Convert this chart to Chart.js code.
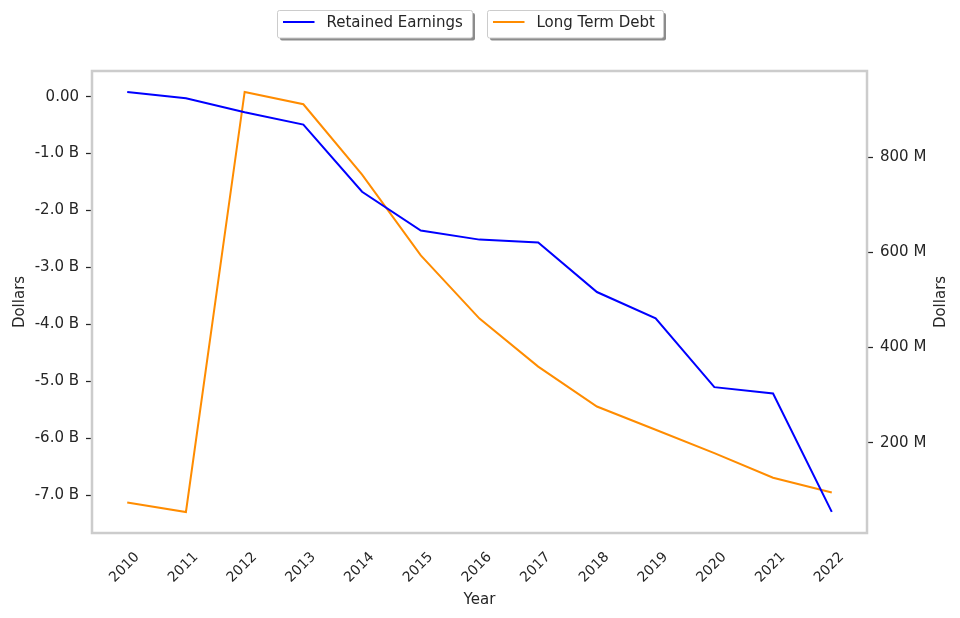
<!DOCTYPE html>
<html>
<head>
<meta charset="utf-8">
<script src="https://cdn.jsdelivr.net/npm/chart.js@4/dist/chart.umd.min.js"></script>
<style>
html,body{margin:0;padding:0;background:#fff;}
canvas{display:block;}
</style>
</head>
<body>
<canvas id="c" width="960" height="618"></canvas>
<script>
// ---- data ----
const years = [2010, 2011, 2012, 2013, 2014, 2015, 2016, 2017, 2018, 2019, 2020, 2021, 2022];
// Retained Earnings, billions of dollars
const retainedEarningsB = [0.082, -0.03, -0.275, -0.49, -1.67, -2.35, -2.51, -2.56, -3.43, -3.89, -5.10, -5.21, -7.29];
// Long Term Debt, millions of dollars
const longTermDebtM = [74, 54, 938, 912, 764, 594, 461, 360, 276, 227, 178, 126, 95];
// tick labels
const leftTickValues = [0, -1, -2, -3, -4, -5, -6, -7];
const rightTickValues = [200, 400, 600, 800];
const seriesLabels = ['Retained Earnings', 'Long Term Debt'];
const seriesColors = ['#0000ff', '#ff8c00'];
const axisTitles = {x: 'Year', left: 'Dollars', right: 'Dollars'};

const FONT = 'DejaVu Sans';
const TXT = '#262626';

const framePlugin = {
  id: 'frame',
  beforeDraw(chart) {
    const c = chart.ctx;
    c.save();
    c.fillStyle = '#fff';
    c.fillRect(0, 0, chart.width, chart.height);
    c.restore();
  },
  afterDatasetsDraw(chart) {
    const a = chart.chartArea, c = chart.ctx;
    c.save();
    c.strokeStyle = '#cccccc';
    c.lineWidth = 2.5;
    c.strokeRect(a.left, a.top, a.right - a.left, a.bottom - a.top);
    c.restore();
  },
  afterDraw(chart) {
    const c = chart.ctx;
    const a = chart.chartArea;
    c.save();
    c.font = '15px "' + FONT + '"';
    c.fillStyle = TXT;
    c.textAlign = 'center';
    c.textBaseline = 'middle';
    c.translate(941, (a.top + a.bottom) / 2);
    c.rotate(-Math.PI / 2);
    c.fillText(axisTitles.right, 0, 0);
    c.restore();

    const boxes = [
      {x: 277.5, y: 10.5, w: 195, h: 27.5},
      {x: 487.5, y: 10.5, w: 176, h: 27.5}
    ];
    c.save();
    c.font = '15px "' + FONT + '"';
    c.textBaseline = 'middle';
    chart.data.datasets.forEach((ds, i) => {
      const b = boxes[i];
      c.fillStyle = 'rgba(0,0,0,0.45)';
      c.beginPath();
      c.roundRect(b.x + 2.5, b.y + 2.5, b.w, b.h, 2);
      c.fill();
      c.fillStyle = '#ffffff';
      c.strokeStyle = '#cccccc';
      c.lineWidth = 1;
      c.beginPath();
      c.roundRect(b.x, b.y, b.w, b.h, 2);
      c.fill();
      c.stroke();
      c.strokeStyle = ds.borderColor;
      c.lineWidth = 2;
      c.beginPath();
      c.moveTo(b.x + 5.5, b.y + 11.5);
      c.lineTo(b.x + 37, b.y + 11.5);
      c.stroke();
      c.fillStyle = TXT;
      c.fillText(ds.label, b.x + 49, b.y + 12.5);
    });
    c.restore();
  }
};

new Chart(document.getElementById('c'), {
  type: 'line',
  data: {
    datasets: [
      {
        label: seriesLabels[0],
        data: years.map((y, i) => ({x: y, y: retainedEarningsB[i]})),
        borderColor: seriesColors[0],
        backgroundColor: seriesColors[0],
        borderWidth: 2,
        pointRadius: 0,
        tension: 0,
        yAxisID: 'y'
      },
      {
        label: seriesLabels[1],
        data: years.map((y, i) => ({x: y, y: longTermDebtM[i]})),
        borderColor: seriesColors[1],
        backgroundColor: seriesColors[1],
        borderWidth: 2,
        pointRadius: 0,
        tension: 0,
        yAxisID: 'y1'
      }
    ]
  },
  options: {
    responsive: false,
    animation: false,
    devicePixelRatio: 1,
    layout: {padding: {top: 71, left: 0, right: 0, bottom: 0}},
    plugins: {legend: {display: false}, tooltip: {enabled: false}},
    scales: {
      x: {
        type: 'linear',
        min: 2009.4,
        max: 2022.6,
        afterBuildTicks(s) { s.ticks = years.map(v => ({value: v})); },
        afterFit(s) { s.height = 85; },
        grid: {display: true, drawOnChartArea: false, drawTicks: true, tickLength: 6, tickColor: 'rgba(0,0,0,0)'},
        border: {display: false},
        ticks: {
          callback: v => String(v),
          minRotation: 45, maxRotation: 45,
          labelOffset: 10,
          color: TXT, font: {family: FONT, size: 14}, padding: 10
        },
        title: {display: true, text: axisTitles.x, color: TXT, font: {family: FONT, size: 15}, padding: {top: 0, bottom: 9}}
      },
      y: {
        position: 'left',
        min: -7.66,
        max: 0.45,
        afterBuildTicks(s) { s.ticks = leftTickValues.map(v => ({value: v})); },
        afterFit(s) { s.width = 92; },
        grid: {display: true, drawOnChartArea: false, drawTicks: true, tickLength: 6, tickColor: TXT, tickWidth: 1.25},
        border: {display: false},
        ticks: {
          callback: v => v === 0 ? '0.00' : v.toFixed(1) + ' B',
          color: TXT, font: {family: FONT, size: 15}, padding: 7
        },
        title: {display: true, text: axisTitles.left, color: TXT, font: {family: FONT, size: 15}, padding: {top: 11, bottom: 0}}
      },
      y1: {
        position: 'right',
        min: 9.8,
        max: 982,
        afterBuildTicks(s) { s.ticks = rightTickValues.map(v => ({value: v})); },
        afterFit(s) { s.width = 93; },
        grid: {display: true, drawOnChartArea: false, drawTicks: true, tickLength: 6, tickColor: TXT, tickWidth: 1.25},
        border: {display: false},
        ticks: {
          callback: v => v + ' M',
          color: TXT, font: {family: FONT, size: 15}, padding: 7
        },
        title: {display: false}
      }
    }
  },
  plugins: [framePlugin]
});
</script>
</body>
</html>
